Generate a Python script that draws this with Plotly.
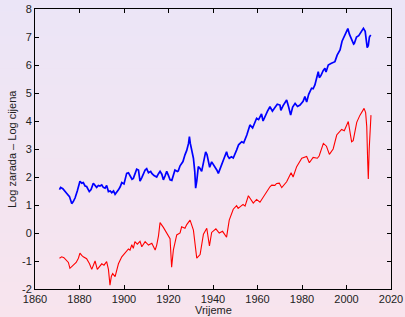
import plotly.graph_objects as go

price_years = [1871, 1871.5, 1872.5, 1873.5, 1874.2, 1875.5, 1876.5, 1877.2, 1878, 1879, 1880.2, 1881, 1881.7,
               1882.5, 1883.2, 1884.4, 1885.2, 1886.2, 1887, 1887.7, 1888.5, 1889.2, 1890, 1890.7, 1891.5,
               1892.2, 1893, 1893.8, 1894.5, 1895.3, 1896, 1896.8, 1897.5, 1898.3, 1899, 1900, 1900.5,
               1901.2, 1902, 1903, 1903.6, 1904.2, 1905, 1905.7, 1906.5, 1907.2, 1908, 1908.7, 1909.5,
               1910.2, 1911, 1912, 1912.5, 1913.5, 1914.7, 1915.5, 1916.2, 1917, 1917.7, 1918.5, 1919.2,
               1920, 1920.7, 1921.5, 1922.2, 1922.9, 1924, 1924.4, 1925.2, 1925.9, 1926.5, 1927.4, 1928.2,
               1929, 1929.4, 1929.8, 1930.4, 1931.2, 1931.8, 1932.2, 1932.7, 1933.4, 1934.2, 1934.9, 1935.8,
               1936.7, 1937.3, 1937.9, 1938.5, 1939.4, 1940.2, 1940.9, 1941.7, 1942.4, 1943.2, 1943.9, 1945,
               1946.1, 1946.6, 1947.3, 1948.3, 1949.1, 1950.6, 1951.5, 1952.9, 1953.8, 1955.2, 1956.6,
               1957.8, 1958.1, 1959, 1959.6, 1960.5, 1961.8, 1962.5, 1963.5, 1964.5, 1965.6, 1966.7, 1968,
               1968.9, 1970.1, 1970.5, 1971.5, 1973.1, 1974, 1974.9, 1975.8, 1976.9, 1978, 1979.1, 1980.5,
               1981.3, 1982.1, 1983, 1984.3, 1985, 1985.8, 1986.7, 1987.3, 1987.8, 1988.5, 1989.5, 1990.3,
               1990.8, 1991.8, 1993, 1994, 1994.8, 1995.8, 1997.1, 1998, 1999, 2000.1, 2000.6, 2001.3,
               2002.3, 2003.2, 2003.5, 2004.5, 2005.5, 2006.5, 2007.6, 2008.4, 2008.9, 2009.3, 2009.8,
               2010.3, 2010.9]
log_price = [1.55, 1.63, 1.58, 1.50, 1.42, 1.30, 1.05, 1.12, 1.25, 1.50, 1.85, 1.78, 1.80,
             1.68, 1.66, 1.48, 1.55, 1.78, 1.70, 1.63, 1.70, 1.68, 1.72, 1.63, 1.60,
             1.70, 1.48, 1.50, 1.44, 1.50, 1.38, 1.45, 1.54, 1.65, 1.80, 1.75, 1.90,
             2.13, 2.15, 2.00, 1.92, 1.95, 2.15, 2.28, 2.25, 1.85, 1.98, 2.13, 2.25,
             2.30, 2.15, 2.20, 2.13, 2.05, 2.00, 2.12, 2.20, 2.10, 1.90, 2.05, 2.20,
             2.05, 1.90, 1.88, 2.05, 2.25, 2.20, 2.22, 2.40, 2.50, 2.55, 2.79, 2.95,
             3.20, 3.44, 3.20, 2.95, 2.67, 2.20, 1.60, 1.85, 2.37, 2.30, 2.20, 2.55,
             2.90, 2.80, 2.49, 2.35, 2.54, 2.45, 2.37, 2.25, 2.13, 2.30, 2.40, 2.65,
             2.90, 2.75, 2.67, 2.72, 2.68, 2.96, 3.15, 3.26, 3.22, 3.50, 3.86,
             3.75, 3.80, 4.00, 4.10, 4.05, 4.25, 4.00, 4.20, 4.35, 4.51, 4.35, 4.50,
             4.60, 4.57, 4.38, 4.55, 4.75, 4.50, 4.21, 4.50, 4.63, 4.52, 4.57, 4.70,
             4.87, 4.68, 4.95, 5.17, 5.15, 5.29, 5.55, 5.76, 5.55, 5.62, 5.80, 5.88,
             5.75, 6.00, 6.05, 6.10, 6.12, 6.35, 6.54, 6.85, 7.05, 7.25, 7.30, 7.10,
             6.90, 6.75, 6.77, 7.00, 7.05, 7.20, 7.31, 7.20, 6.95, 6.62, 6.70,
             7.00, 7.07]

earn_years = [1871, 1872, 1873, 1874, 1875, 1875.7, 1877, 1878.5, 1879.5, 1880.2, 1881, 1881.7, 1883.2,
              1884.5, 1885.5, 1886.3, 1887, 1888, 1889, 1890, 1891, 1892.2, 1893, 1893.7, 1894.3,
              1894.9, 1896, 1896.8, 1897.5, 1899, 1900.5, 1902, 1902.7, 1903.5, 1904.2, 1904.9, 1906,
              1907.2, 1908, 1909.5, 1911, 1912.5, 1914, 1914.7, 1915.5, 1916.2, 1917.7, 1919.2, 1920.7,
              1921.4, 1922.2, 1923.7, 1925.2, 1925.9, 1927.4, 1928.2, 1929.7, 1931.2, 1932.0, 1932.7,
              1934.2, 1935.7, 1937.2, 1938.4, 1939.4, 1941.3, 1942.8, 1944.3, 1946.1, 1947.3, 1949.1,
              1950.6, 1951.3, 1953.5, 1954.4, 1955.9, 1958.1, 1959.6, 1961.1, 1963, 1964.1, 1965.6,
              1966.4, 1967.8, 1968.6, 1969.8, 1970.9, 1973.1, 1975.1, 1976, 1977.6, 1979.9, 1982.1,
              1983.3, 1985, 1986.9, 1987.7, 1989.6, 1991, 1992.3, 1994, 1995.6, 1997.8, 1999, 2000.8,
              2002.3, 2003, 2004.6, 2006, 2007.9, 2008.6, 2009.1, 2009.5, 2009.8, 2010.2, 2010.6, 2011]
log_earn = [-0.90, -0.85, -0.88, -0.95, -1.05, -1.26, -1.15, -1.05, -0.90, -0.72, -0.80, -0.85, -0.92,
            -1.10, -1.30, -1.15, -1.00, -1.30, -1.20, -1.10, -1.15, -1.02, -1.30, -1.86, -1.55,
            -1.45, -1.56, -1.30, -1.10, -0.85, -0.72, -0.57, -0.61, -0.42, -0.55, -0.31, -0.40,
            -0.30, -0.49, -0.31, -0.43, -0.37, -0.61, -0.43, -0.10, 0.37, 0.20, -0.01, -0.20,
            -1.22, -0.60, -0.07, 0.00, 0.22, 0.17, 0.30, 0.46, 0.10, -0.40, -0.90,
            -0.77, -0.04, 0.17, -0.46, 0.02, 0.15, 0.00, 0.06, -0.15, 0.46, 0.85,
            0.98, 0.88, 1.02, 0.96, 1.33, 1.07, 1.20, 1.10, 1.35, 1.48, 1.65,
            1.71, 1.70, 1.77, 1.78, 1.62, 1.83, 2.15, 2.00, 2.37, 2.67, 2.73,
            2.51, 2.70, 2.67, 2.75, 3.20, 3.10, 2.81, 3.00, 3.50, 3.70, 3.65, 3.98,
            3.26, 3.30, 3.95, 4.20, 4.45, 4.30, 3.80, 2.60, 1.93, 3.00, 4.00, 4.21]

x_ticks = [1860, 1880, 1900, 1920, 1940, 1960, 1980, 2000, 2020]
y_ticks = [-2, -1, 0, 1, 2, 3, 4, 5, 6, 7, 8]
x_title = "Vrijeme"
y_title = "Log zarada – Log cijena"

fig = go.Figure()
fig.add_trace(go.Scatter(x=price_years, y=log_price, mode="lines",
                         line=dict(color="#0000ff", width=1.7), showlegend=False))
fig.add_trace(go.Scatter(x=earn_years, y=log_earn, mode="lines",
                         line=dict(color="#ff0000", width=1.1), showlegend=False))

# gradient background (lavender top to pink bottom)
top = (235, 229, 247)
bot = (248, 228, 237)
n = 40
y0p, y1p = -0.12, 1.05
shapes = []
for i in range(n):
    t = i / (n - 1)
    c = tuple(round(bot[k] + (top[k] - bot[k]) * t) for k in range(3))
    ya = y0p + (y1p - y0p) * i / n
    yb = y0p + (y1p - y0p) * (i + 1) / n + 0.002
    shapes.append(dict(type="rect", xref="paper", yref="paper", x0=-0.12, x1=1.06,
                       y0=ya, y1=yb, fillcolor="rgb(%d,%d,%d)" % c, line=dict(width=0),
                       layer="below"))

axis_common = dict(showline=True, linecolor="black", linewidth=1, mirror="ticks",
                   ticks="inside", ticklen=4, tickcolor="black", showgrid=False,
                   zeroline=False, automargin=False, tickfont=dict(size=11, color="#222222"))

fig.update_layout(
    width=405, height=317,
    margin=dict(l=35, r=14, t=9, b=28),
    paper_bgcolor="rgb(241,228,242)",
    plot_bgcolor="rgba(0,0,0,0)",
    font=dict(family="Liberation Sans, Arial, sans-serif", size=11, color="#222222"),
    shapes=shapes,
    xaxis=dict(range=[1860, 2020], tickvals=x_ticks, ticktext=[str(v) for v in x_ticks],
               **axis_common),
    yaxis=dict(range=[-2, 8], tickvals=y_ticks, ticktext=[str(v) for v in y_ticks],
               **axis_common),
    annotations=[
        dict(text=x_title, xref="paper", yref="paper", x=0.5, y=-0.075,
             xanchor="center", yanchor="middle", showarrow=False, font=dict(size=11)),
        dict(text=y_title, xref="paper", yref="paper", x=-0.0646, y=0.5,
             xanchor="center", yanchor="middle", textangle=-90, showarrow=False,
             font=dict(size=11)),
    ],
)

fig.write_html("out.html", config={"displayModeBar": False},
               post_script="document.body.style.margin='0';")
